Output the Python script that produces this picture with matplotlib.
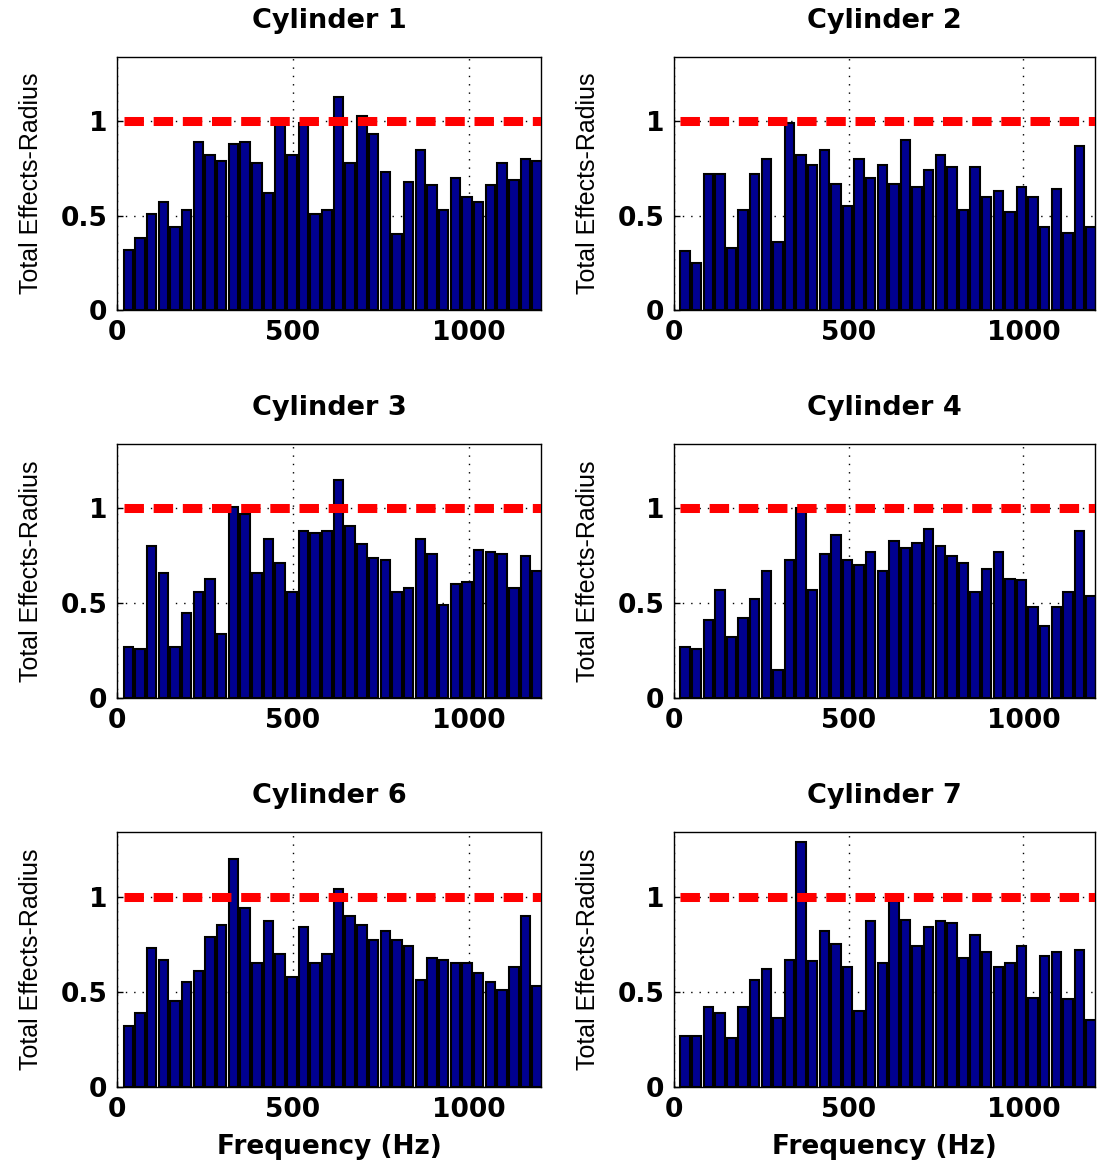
import matplotlib

matplotlib.use("Agg")
import matplotlib.pyplot as plt
import numpy as np

# bin centres (Hz), 36 bins
FREQ = np.linspace(32, 1194, 36)
BAR_WIDTH = 27
THRESHOLD = 1.0

TITLES = ["Cylinder 1", "Cylinder 2", "Cylinder 3", "Cylinder 4", "Cylinder 6", "Cylinder 7"]

cyl1 = [0.32, 0.38, 0.51, 0.57, 0.44, 0.53, 0.89, 0.82, 0.79, 0.88, 0.89, 0.78,
        0.62, 0.99, 0.82, 0.99, 0.51, 0.53, 1.13, 0.78, 1.03, 0.93, 0.73, 0.40,
        0.68, 0.85, 0.66, 0.53, 0.70, 0.60, 0.57, 0.66, 0.78, 0.69, 0.80, 0.79]
cyl2 = [0.31, 0.25, 0.72, 0.72, 0.33, 0.53, 0.72, 0.80, 0.36, 0.99, 0.82, 0.77,
        0.85, 0.67, 0.55, 0.80, 0.70, 0.77, 0.67, 0.90, 0.65, 0.74, 0.82, 0.76,
        0.53, 0.76, 0.60, 0.63, 0.52, 0.65, 0.60, 0.44, 0.64, 0.41, 0.87, 0.44]
cyl3 = [0.27, 0.26, 0.80, 0.66, 0.27, 0.45, 0.56, 0.63, 0.34, 1.01, 0.97, 0.66,
        0.84, 0.71, 0.56, 0.88, 0.87, 0.88, 1.15, 0.91, 0.81, 0.74, 0.73, 0.56,
        0.58, 0.84, 0.76, 0.49, 0.60, 0.61, 0.78, 0.77, 0.76, 0.58, 0.75, 0.67]
cyl4 = [0.27, 0.26, 0.41, 0.57, 0.32, 0.42, 0.52, 0.67, 0.15, 0.73, 1.00, 0.57,
        0.76, 0.86, 0.73, 0.70, 0.77, 0.67, 0.83, 0.79, 0.82, 0.89, 0.80, 0.75,
        0.71, 0.56, 0.68, 0.77, 0.63, 0.62, 0.48, 0.38, 0.48, 0.56, 0.88, 0.54]
cyl6 = [0.32, 0.39, 0.73, 0.67, 0.45, 0.55, 0.61, 0.79, 0.85, 1.20, 0.94, 0.65,
        0.87, 0.70, 0.58, 0.84, 0.65, 0.70, 1.04, 0.90, 0.85, 0.77, 0.82, 0.77,
        0.74, 0.56, 0.68, 0.67, 0.65, 0.65, 0.60, 0.55, 0.51, 0.63, 0.90, 0.53]
cyl7 = [0.27, 0.27, 0.42, 0.39, 0.26, 0.42, 0.56, 0.62, 0.36, 0.67, 1.29, 0.66,
        0.82, 0.75, 0.63, 0.40, 0.87, 0.65, 0.98, 0.88, 0.74, 0.84, 0.87, 0.86,
        0.68, 0.80, 0.71, 0.63, 0.65, 0.74, 0.47, 0.69, 0.71, 0.46, 0.72, 0.35]

SERIES = [cyl1, cyl2, cyl3, cyl4, cyl6, cyl7]

BAR_COLOR = "#00008f"
LABEL_FONT = ["Liberation Sans", "DejaVu Sans"]

# axes boxes in figure pixels: left, top, right, bottom
W, H = 1102, 1163
COLS = [(117, 541), (674, 1095)]
ROWS = [(57, 310), (444, 698), (832, 1087)]


def draw_panel(ax, values, title, show_xlabel):
    ax.set_axisbelow(True)
    ax.bar(FREQ, values, width=BAR_WIDTH, color=BAR_COLOR,
           edgecolor="black", linewidth=1.5, zorder=2)
    x0 = FREQ[0] - BAR_WIDTH / 2
    ax.plot([x0, 1205], [THRESHOLD, THRESHOLD], color="#ff0000", lw=6.5,
            dashes=(14, 7), solid_capstyle="butt", dash_capstyle="butt", zorder=3)
    ax.set_xlim(0, 1205)
    ax.set_ylim(0, 1.34)
    ax.set_xticks([0, 500, 1000])
    ax.set_yticks([0, 0.5, 1])
    ax.set_yticklabels(["0", "0.5", "1"])
    ax.grid(True, color="black", linestyle=(0, (1, 5)), linewidth=1.0)
    ax.tick_params(direction="in", length=4, width=1, labelsize=19, pad=7)
    for lab in ax.get_xticklabels() + ax.get_yticklabels():
        lab.set_fontweight("bold")
    for s in ax.spines.values():
        s.set_linewidth(1.0)
    ax.set_title(title, fontsize=19.5, fontweight="bold", pad=21)
    ax.set_ylabel("Total Effects-Radius", fontsize=18, family=LABEL_FONT)
    ax.yaxis.set_label_coords(-0.175, 0.5)
    if show_xlabel:
        ax.set_xlabel("Frequency (Hz)", fontsize=19, fontweight="bold", labelpad=8)


def main() -> None:
    plt.rcParams["lines.scale_dashes"] = False
    fig = plt.figure(figsize=(W / 100, H / 100), dpi=100)
    for i, (values, title) in enumerate(zip(SERIES, TITLES)):
        r, c = divmod(i, 2)
        left, right = COLS[c]
        top, bottom = ROWS[r]
        ax = fig.add_axes([left / W, 1 - bottom / H, (right - left) / W, (bottom - top) / H])
        draw_panel(ax, values, title, show_xlabel=(r == 2))
    fig.savefig("out.png", dpi=100)


if __name__ == "__main__":
    main()
